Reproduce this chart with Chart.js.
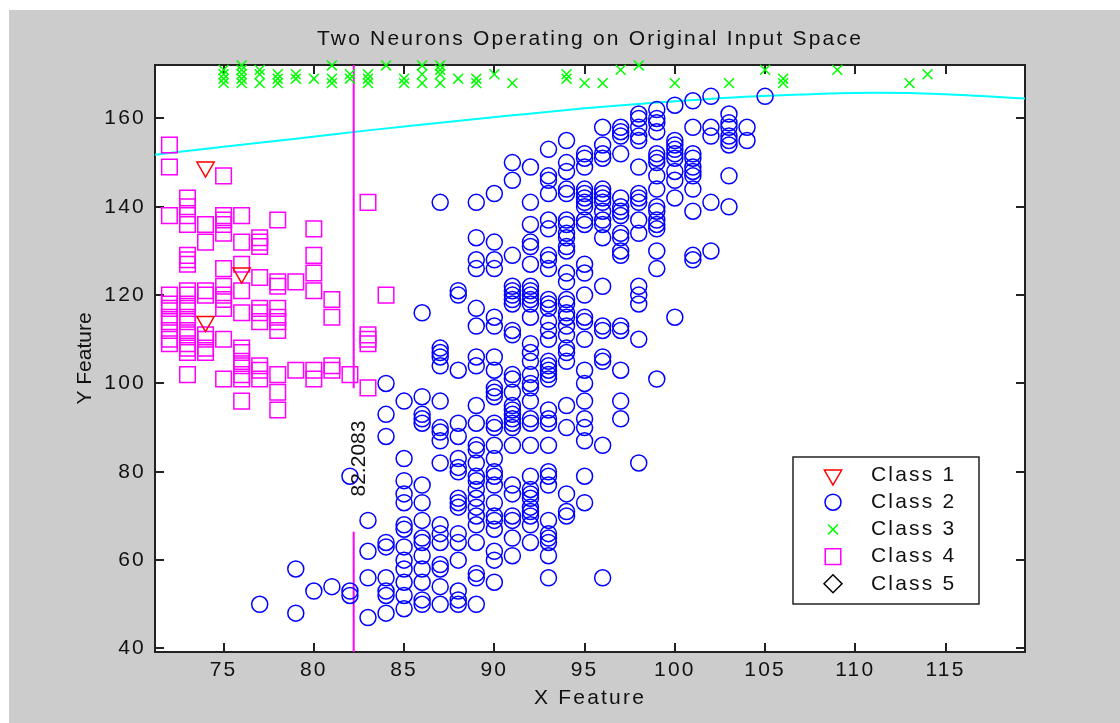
<!DOCTYPE html>
<html>
<head>
<meta charset="utf-8">
<script src="https://cdn.jsdelivr.net/npm/chart.js@4.4.1/dist/chart.umd.min.js"></script>
<style>
  html, body { margin: 0; padding: 0; background: #fff; }
  #wrap {
    position: absolute; left: 0; top: 0; width: 1120px; height: 723px;
    background: linear-gradient(#cccccc, #cccccc) 9px 10px / 1111px 713px no-repeat, #fff;
  }
  canvas { display: block; }
</style>
</head>
<body>
<div id="wrap"><canvas id="c" width="1120" height="723"></canvas></div>
<script>
// Axis ranges and tick values
const xRange = [71.2, 119.4];
const yRange = [39.2, 172.1];
const xTicks = [75, 80, 85, 90, 95, 100, 105, 110, 115];
const yTicks = [40, 60, 80, 100, 120, 140, 160];

const classNames = ['Class 1', 'Class 2', 'Class 3', 'Class 4', 'Class 5'];

// Class 1 samples
const class1X = [74, 76, 74];
const class1Y = [149, 125, 114];

// Class 2 samples, grouped as [x, [y values]]
const class2Cols = [
  [77, [50]],
  [79, [58, 48]],
  [80, [53]],
  [81, [54]],
  [82, [79, 53, 52]],
  [83, [69, 62, 56, 47]],
  [84, [100, 93, 88, 64, 63, 56, 53, 52, 48]],
  [85, [96, 83, 78, 75, 73, 68, 67, 63, 60, 58, 55, 52, 49]],
  [86, [116, 97, 93, 92, 91, 77, 73, 69, 65, 64, 61, 58, 55, 51, 50]],
  [87, [141, 108, 107, 106, 104, 96, 90, 89, 87, 82, 68, 66, 64, 59, 58, 54, 50]],
  [88, [121, 120, 103, 91, 88, 83, 81, 80, 74, 73, 72, 66, 64, 60, 53, 51, 50]],
  [89, [141, 133, 128, 126, 117, 113, 106, 104, 95, 91, 86, 85, 82, 79, 78, 76, 74, 72, 70, 68, 64, 57, 56, 50]],
  [90, [143, 132, 128, 126, 115, 113, 106, 103, 99, 98, 97, 91, 90, 86, 83, 80, 79, 77, 73, 70, 69, 67, 62, 60, 55]],
  [91, [150, 146, 129, 122, 121, 120, 119, 118, 112, 111, 102, 101, 98, 95, 94, 93, 92, 91, 90, 86, 77, 75, 70, 69, 65, 61]],
  [92, [149, 141, 136, 132, 131, 127, 122, 121, 120, 119, 118, 115, 109, 107, 105, 102, 100, 99, 96, 92, 91, 86, 79, 76, 75, 74, 72, 71, 70, 68, 64]],
  [93, [153, 147, 146, 143, 137, 135, 129, 128, 126, 119, 118, 117, 114, 112, 110, 105, 104, 103, 102, 101, 94, 92, 91, 86, 80, 79, 77, 69, 66, 65, 64, 61, 56]],
  [94, [155, 150, 148, 144, 143, 137, 136, 134, 133, 131, 130, 125, 123, 119, 118, 116, 115, 113, 111, 108, 107, 105, 95, 90, 75, 71, 70]],
  [95, [152, 151, 149, 144, 143, 142, 141, 140, 137, 136, 127, 125, 120, 115, 114, 110, 103, 100, 96, 92, 90, 87, 79, 73]],
  [96, [158, 154, 152, 151, 144, 143, 142, 141, 139, 137, 136, 133, 122, 113, 112, 106, 105, 86, 56]],
  [97, [158, 157, 156, 152, 142, 140, 139, 138, 134, 133, 130, 129, 113, 112, 103, 96, 92]],
  [98, [161, 160, 158, 156, 155, 149, 143, 142, 141, 137, 134, 122, 120, 118, 110, 82]],
  [99, [162, 160, 159, 157, 152, 151, 150, 147, 144, 140, 139, 137, 136, 135, 130, 126, 101]],
  [100, [163, 155, 154, 153, 152, 151, 148, 146, 142, 115]],
  [101, [164, 158, 152, 151, 149, 148, 147, 144, 139, 129, 128]],
  [102, [165, 158, 156, 141, 130]],
  [103, [161, 159, 158, 156, 155, 154, 147, 140]],
  [104, [158, 155]],
  [105, [165]]
];

// Class 3 samples
const class3Cols = [
  [75, [171, 170, 169, 168]],
  [76, [172, 171, 170, 169, 168]],
  [77, [171, 170, 168]],
  [78, [170, 169, 168]],
  [79, [170, 169]],
  [80, [169]],
  [81, [172, 169, 168]],
  [82, [170, 169]],
  [83, [170, 169, 168]],
  [84, [172]],
  [85, [169, 168]],
  [86, [172, 170, 168]],
  [87, [172, 171, 170, 168]],
  [88, [169]],
  [89, [169, 168]],
  [90, [170]],
  [91, [168]],
  [94, [170, 169]],
  [95, [168]],
  [96, [168]],
  [97, [171]],
  [98, [172]],
  [100, [168]],
  [103, [168]],
  [105, [171]],
  [106, [169, 168]],
  [109, [171]],
  [113, [168]],
  [114, [170]]
];

// Class 4 samples
const class4Cols = [
  [72, [154, 149, 138, 120, 118, 117, 115, 114, 112, 110, 109]],
  [73, [142, 140, 138, 136, 129, 128, 127, 121, 120, 118, 117, 115, 114, 112, 111, 109, 108, 107, 102]],
  [74, [136, 132, 121, 120, 111, 110, 108, 107]],
  [75, [147, 138, 137, 136, 134, 126, 122, 120, 119, 117, 110, 101]],
  [76, [138, 132, 127, 121, 116, 108, 107, 105, 104, 102, 101, 96]],
  [77, [133, 132, 131, 124, 117, 116, 114, 104, 103, 101]],
  [78, [137, 123, 122, 117, 115, 114, 112, 102, 98, 94]],
  [79, [123, 103]],
  [80, [135, 129, 125, 121, 103, 101]],
  [81, [119, 115, 104, 103]],
  [82, [102]],
  [83, [141, 111, 110, 109, 99]],
  [84, [120]]
];

// Class 5 has no samples in this view
const class5Cols = [];

// Decision boundaries of the two neurons
const boundaryX = 82.2083;
const boundaryLabel = '82.2083';
const boundaryLabelY = 83;
const boundaryGap = [98.9, 66.4];

const curveX = [71.2, 75, 79, 83, 87, 91, 95, 99, 103, 107, 111, 115, 119.4];
const curveY = [151.8, 153.6, 155.4, 157.3, 159.0, 160.7, 162.3, 163.6, 164.7, 165.4, 165.8, 165.5, 164.5];

const FONT = '"Liberation Sans", Arial, Helvetica, sans-serif';
const TEXT = '#111111';
const AXIS = '#222222';

const markerStyles = [
  { pointStyle: 'triangle', rotation: 180, radius: 10, color: '#ff0000' },
  { pointStyle: 'circle', rotation: 0, radius: 8, color: '#0000ff' },
  { pointStyle: 'crossRot', rotation: 0, radius: 7, color: '#00ff00' },
  { pointStyle: 'rect', rotation: 0, radius: 11, color: '#ff00ff' },
  { pointStyle: 'rectRot', rotation: 0, radius: 9, color: '#000000' }
];

const fromCols = cols => cols.flatMap(([x, ys]) => ys.map(y => ({ x, y })));
const classData = [
  class1X.map((x, i) => ({ x, y: class1Y[i] })),
  fromCols(class2Cols),
  fromCols(class3Cols),
  fromCols(class4Cols),
  fromCols(class5Cols)
];

const scatterSets = classNames.map((name, i) => {
  const m = markerStyles[i];
  return {
    label: name,
    data: classData[i],
    pointStyle: m.pointStyle,
    pointRotation: m.rotation,
    pointRadius: m.radius,
    pointHoverRadius: m.radius,
    pointBorderWidth: 1.5,
    pointBorderColor: m.color,
    borderColor: m.color,
    pointBackgroundColor: 'rgba(0,0,0,0)',
    backgroundColor: 'rgba(0,0,0,0)',
    clip: false
  };
});

const lineSets = [
  {
    type: 'line', label: 'neuron 1 upper',
    data: [{ x: boundaryX, y: yRange[1] }, { x: boundaryX, y: boundaryGap[0] }],
    borderColor: '#ff00ff', borderWidth: 2, pointRadius: 0, showLine: true, fill: false
  },
  {
    type: 'line', label: 'neuron 1 lower',
    data: [{ x: boundaryX, y: boundaryGap[1] }, { x: boundaryX, y: yRange[0] }],
    borderColor: '#ff00ff', borderWidth: 2, pointRadius: 0, showLine: true, fill: false
  },
  {
    type: 'line', label: 'neuron 2',
    data: curveX.map((x, i) => ({ x, y: curveY[i] })),
    borderColor: '#00ffff', borderWidth: 2, pointRadius: 0, showLine: true, fill: false,
    tension: 0.4, cubicInterpolationMode: 'monotone'
  }
];

// Wide, letter-spaced screen text
const spacing = {
  id: 'spacing',
  beforeUpdate(chart) { chart.ctx.letterSpacing = '2.2px'; },
  beforeLayout(chart) { chart.ctx.letterSpacing = '2.2px'; },
  afterLayout(chart) {
    const ys = chart.scales.y;
    if (ys && !ys._plainTitle) {
      const orig = ys.drawTitle;
      ys.drawTitle = function () {
        const ctx = this.ctx;
        const prev = ctx.letterSpacing;
        ctx.letterSpacing = '0px';
        orig.apply(this, arguments);
        ctx.letterSpacing = prev;
      };
      ys._plainTitle = true;
    }
  },
  beforeDraw(chart) {
    const { ctx, chartArea: a } = chart;
    ctx.letterSpacing = '2.2px';
    ctx.save();
    ctx.fillStyle = '#ffffff';
    ctx.fillRect(a.left, a.top, a.right - a.left, a.bottom - a.top);
    ctx.restore();
  }
};

// Value label beside the vertical boundary
const boundaryText = {
  id: 'boundaryText',
  afterDatasetsDraw(chart) {
    const { ctx, scales } = chart;
    const px = scales.x.getPixelForValue(boundaryX);
    const py = scales.y.getPixelForValue(boundaryLabelY);
    ctx.save();
    ctx.letterSpacing = '0px';
    ctx.translate(px + 6, py);
    ctx.rotate(-Math.PI / 2);
    ctx.font = '21px ' + FONT;
    ctx.fillStyle = TEXT;
    ctx.textAlign = 'center';
    ctx.textBaseline = 'middle';
    ctx.fillText(boundaryLabel, 0, 0);
    ctx.restore();
  }
};

// Boxed legend in the lower right of the axes
const legendBox = {
  id: 'legendBox',
  afterDraw(chart) {
    const { ctx, chartArea: a } = chart;
    const w = 186, h = 147;
    const right = a.right - 46, bottom = a.bottom - 48;
    const left = right - w, top = bottom - h;
    ctx.save();
    ctx.fillStyle = '#ffffff';
    ctx.fillRect(left, top, w, h);
    ctx.strokeStyle = AXIS;
    ctx.lineWidth = 1.5;
    ctx.strokeRect(left, top, w, h);
    ctx.font = '21px ' + FONT;
    ctx.letterSpacing = '2.2px';
    ctx.textBaseline = 'middle';
    ctx.textAlign = 'left';
    classNames.forEach((name, i) => {
      const m = markerStyles[i];
      const cy = top + 18 + i * 27.2;
      ctx.fillStyle = 'rgba(0,0,0,0)';
      ctx.strokeStyle = m.color;
      ctx.lineWidth = 1.5;
      Chart.helpers.drawPoint(ctx, {
        pointStyle: m.pointStyle, rotation: m.rotation, radius: m.radius, borderWidth: 1.5
      }, left + 40, cy);
      ctx.fillStyle = TEXT;
      ctx.fillText(name, left + 78, cy);
    });
    ctx.restore();
  }
};

const setTicks = values => scale => { scale.ticks = values.map(value => ({ value })); };
const inwardGrid = { drawOnChartArea: false, drawTicks: true, tickLength: -9, color: AXIS, lineWidth: 2 };
const frame = { display: true, color: AXIS, width: 2 };

Chart.defaults.font.family = FONT;
Chart.defaults.font.size = 21;
Chart.defaults.color = TEXT;

new Chart(document.getElementById('c'), {
  type: 'scatter',
  data: { datasets: [...scatterSets, ...lineSets] },
  options: {
    responsive: false,
    animation: false,
    events: [],
    layout: { padding: { left: 60, right: 0, top: 0, bottom: 0 }, autoPadding: false },
    plugins: {
      legend: { display: false },
      tooltip: { enabled: false },
      title: {
        display: true,
        text: 'Two Neurons Operating on Original Input Space',
        color: TEXT,
        font: { size: 21, weight: 'normal' },
        padding: { top: 26.4, bottom: 8.4 }
      }
    },
    scales: {
      x: {
        type: 'linear', position: 'bottom', min: xRange[0], max: xRange[1],
        afterBuildTicks: setTicks(xTicks),
        afterFit: s => { s.height = 71; },
        ticks: { padding: 14.4, color: TEXT, includeBounds: false, maxRotation: 0 },
        grid: inwardGrid, border: frame,
        title: { display: true, text: 'X Feature', color: TEXT, font: { size: 21 }, padding: { top: 0, bottom: 12.4 } }
      },
      x2: {
        type: 'linear', axis: 'x', position: 'top', min: xRange[0], max: xRange[1],
        afterBuildTicks: setTicks(xTicks),
        afterFit: s => { s.height = 5; },
        ticks: { display: false, includeBounds: false },
        grid: inwardGrid, border: frame
      },
      y: {
        type: 'linear', position: 'left', min: yRange[0], max: yRange[1],
        afterBuildTicks: setTicks(yTicks),
        afterFit: s => { s.width = 95; },
        ticks: { padding: 18, color: TEXT, includeBounds: false },
        grid: inwardGrid, border: frame,
        title: { display: true, text: 'Y Feature', color: TEXT, font: { size: 21 }, padding: { top: 12.4, bottom: 0 } }
      },
      y2: {
        type: 'linear', axis: 'y', position: 'right', min: yRange[0], max: yRange[1],
        afterBuildTicks: setTicks(yTicks),
        afterFit: s => { s.width = 95; },
        ticks: { display: false, includeBounds: false },
        grid: inwardGrid, border: frame
      }
    }
  },
  plugins: [spacing, boundaryText, legendBox]
});
</script>
</body>
</html>
